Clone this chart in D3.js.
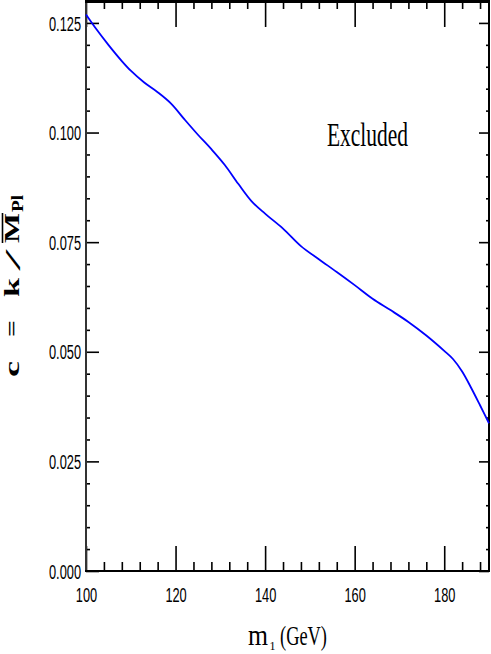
<!DOCTYPE html>
<html>
<head>
<meta charset="utf-8">
<script src="https://cdn.jsdelivr.net/npm/d3@7"></script>
<style>
  html, body { margin: 0; padding: 0; background: #fff; }
  svg { display: block; }
</style>
</head>
<body>
<script>
// ---- data ----
const massGeV = [100,102,105,108,110,113,116,119,122,125,128,131,134,137,140,144,148,152,156,160,164,168,172,176,180,182,184,186,188,190];
const cBound  = [0.1269,0.1240,0.1200,0.1163,0.1141,0.1114,0.1092,0.1066,0.1030,0.0995,0.0962,0.0926,0.0883,0.0843,0.0815,0.0781,0.0741,0.0711,0.0682,0.0652,0.0621,0.0595,0.0568,0.0537,0.0502,0.0483,0.0455,0.0418,0.0378,0.0337];
const xMajorTicks = [100,120,140,160,180];
const xMinorTicks = d3.range(104, 190, 4).filter(v => (v - 100) % 20 !== 0);
const yMajorTicks = [0,0.025,0.05,0.075,0.1,0.125];
const yMinorTicks = d3.range(1, 26).map(i => i * 0.005).filter(v => Math.abs(v / 0.025 - Math.round(v / 0.025)) > 1e-6);
const regionLabel = "Excluded";

const W = 491, H = 654;
const L = 86, R = 489, T = 1, B = 571;
const SQ = 0.64; // horizontal squeeze of condensed labels

const svg = d3.select("body").append("svg").attr("width", W).attr("height", H);
svg.append("rect").attr("width", W).attr("height", H).attr("fill", "#fff");

const x = d3.scaleLinear().domain([100, 190]).range([L, R]);
const y = d3.scaleLinear().domain([0, 0.13]).range([B, T]);

function styleAxis(g) {
  g.selectAll("path.domain").remove();
  g.selectAll(".tick line").attr("stroke", "#000").attr("stroke-width", 1.6);
}

// bottom axis (ticks pointing inward)
const gb = svg.append("g").attr("transform", `translate(0,${B})`);
gb.call(d3.axisBottom(x).tickValues(xMinorTicks).tickSizeInner(-9).tickSizeOuter(0).tickFormat(""));
styleAxis(gb);
const gb2 = svg.append("g").attr("transform", `translate(0,${B})`);
gb2.call(d3.axisBottom(x).tickValues(xMajorTicks).tickSizeInner(-25).tickSizeOuter(0).tickPadding(17).tickFormat(d3.format("d")));
styleAxis(gb2);
gb2.selectAll(".tick text")
  .attr("font-family", "Liberation Sans, Arial, sans-serif").attr("font-size", 20).attr("fill", "#000")
  .attr("transform", `scale(${SQ},1)`).attr("x", 0);

// top axis
const gt = svg.append("g").attr("transform", `translate(0,${T})`);
gt.call(d3.axisTop(x).tickValues(xMinorTicks).tickSizeInner(-8).tickSizeOuter(0).tickFormat(""));
styleAxis(gt);
const gt2 = svg.append("g").attr("transform", `translate(0,${T})`);
gt2.call(d3.axisTop(x).tickValues(xMajorTicks).tickSizeInner(-26).tickSizeOuter(0).tickFormat(""));
styleAxis(gt2);

// left axis
const gl = svg.append("g").attr("transform", `translate(${L},0)`);
gl.call(d3.axisLeft(y).tickValues(yMinorTicks).tickSizeInner(-4).tickSizeOuter(0).tickFormat(""));
styleAxis(gl);
const gl2 = svg.append("g").attr("transform", `translate(${L},0)`);
gl2.call(d3.axisLeft(y).tickValues(yMajorTicks).tickSizeInner(-13).tickSizeOuter(0).tickPadding(5).tickFormat(d3.format(".3f")));
styleAxis(gl2);
gl2.selectAll(".tick text")
  .attr("font-family", "Liberation Sans, Arial, sans-serif").attr("font-size", 20).attr("fill", "#000")
  .attr("transform", `scale(${SQ},1)`).attr("x", -5 / SQ).attr("dy", "0.36em");

// right axis
const gr = svg.append("g").attr("transform", `translate(${R},0)`);
gr.call(d3.axisRight(y).tickValues(yMinorTicks).tickSizeInner(-3).tickSizeOuter(0).tickFormat(""));
styleAxis(gr);
const gr2 = svg.append("g").attr("transform", `translate(${R},0)`);
gr2.call(d3.axisRight(y).tickValues(yMajorTicks).tickSizeInner(-10).tickSizeOuter(0).tickFormat(""));
styleAxis(gr2);

// frame
svg.append("line").attr("x1", L).attr("x2", L).attr("y1", T).attr("y2", B).attr("stroke", "#333").attr("stroke-width", 2);
svg.append("line").attr("x1", R).attr("x2", R).attr("y1", T).attr("y2", B).attr("stroke", "#000").attr("stroke-width", 2);
svg.append("line").attr("x1", L - 1).attr("x2", R + 1).attr("y1", B).attr("y2", B).attr("stroke", "#000").attr("stroke-width", 2);
svg.append("line").attr("x1", L - 1).attr("x2", R + 1).attr("y1", T + 0.5).attr("y2", T + 0.5).attr("stroke", "#000").attr("stroke-width", 3);

// curve
const line = d3.line().x((d, i) => x(massGeV[i])).y(d => y(d)).curve(d3.curveCatmullRom.alpha(0.5));
svg.append("path").datum(cBound).attr("d", line)
  .attr("fill", "none").attr("stroke", "#0000ff").attr("stroke-width", 1.8);

// region label
svg.append("text").attr("x", 327).attr("y", 146).text(regionLabel)
  .attr("font-family", "Liberation Serif, Times New Roman, serif").attr("font-size", 33)
  .attr("textLength", 81).attr("lengthAdjust", "spacingAndGlyphs").attr("fill", "#000");

// x-axis title: m_1 (GeV)
const serif = "Liberation Serif, Times New Roman, serif";
svg.append("text").attr("x", 248).attr("y", 645).text("m").attr("font-family", serif).attr("font-size", 29)
  .attr("textLength", 20).attr("lengthAdjust", "spacingAndGlyphs");
svg.append("text").attr("x", 269.5).attr("y", 650).text("1").attr("font-family", serif).attr("font-size", 13)
  .attr("textLength", 6).attr("lengthAdjust", "spacingAndGlyphs");
svg.append("text").attr("x", 280).attr("y", 645).text("(GeV)").attr("font-family", serif).attr("font-size", 27)
  .attr("textLength", 47).attr("lengthAdjust", "spacingAndGlyphs");

// y-axis title: c = k / M̄_Pl (rotated)
const gy = svg.append("g").attr("transform", "translate(19,377) rotate(-90)");
const yPieces = [
  { t: "c", x: 0, len: 16, fs: 22, dy: 0, w: "bold" },
  { t: "=", x: 40, len: 17, fs: 18, dy: -1, w: "bold" },
  { t: "k", x: 80, len: 19, fs: 22, dy: 0, w: "bold" },
  { t: "/", x: 106, len: 22, fs: 20, dy: 1, w: "normal" },
  { t: "M", x: 134, len: 30, fs: 21, dy: 0, w: "bold" },
  { t: "Pl", x: 165, len: 17, fs: 16, dy: 4, w: "bold" }
];
yPieces.forEach(p => {
  gy.append("text").attr("x", p.x).attr("y", p.dy).text(p.t)
    .attr("font-family", serif).attr("font-weight", p.w).attr("font-size", p.fs)
    .attr("textLength", p.len).attr("lengthAdjust", "spacingAndGlyphs").attr("fill", "#000");
});
gy.append("line").attr("x1", 134).attr("x2", 164).attr("y1", -16.5).attr("y2", -16.5)
  .attr("stroke", "#000").attr("stroke-width", 1.6);
</script>
</body>
</html>
